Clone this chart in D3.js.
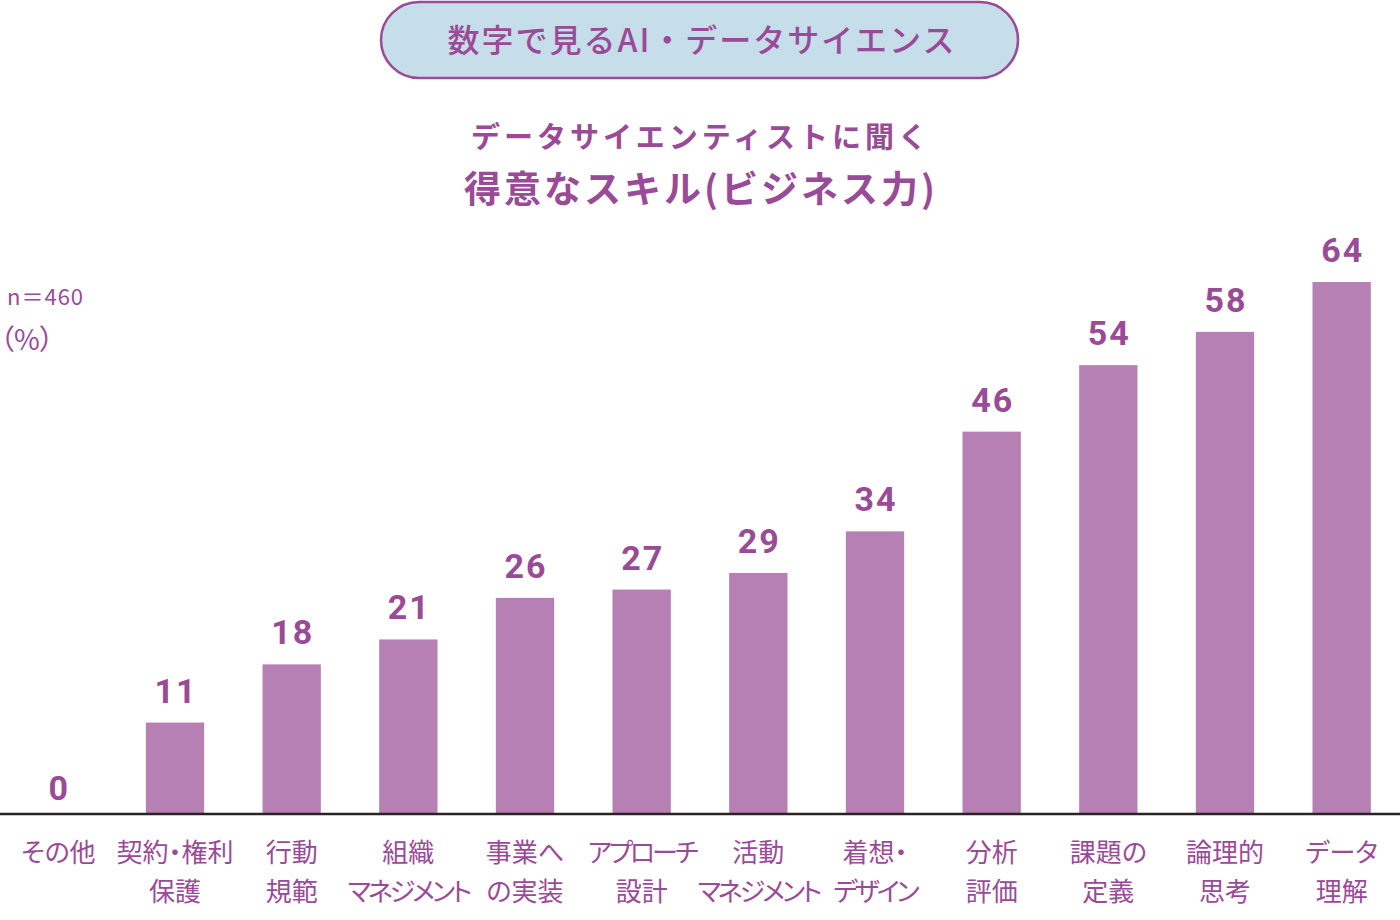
<!DOCTYPE html>
<html>
<head>
<meta charset="utf-8">
<script src="https://cdn.jsdelivr.net/npm/d3@7"></script>
<style>
  body { margin: 0; background: #fff; }
  text { font-family: "Noto Sans CJK JP", sans-serif; font-feature-settings: "palt"; }
  text.title { font-feature-settings: normal; }
</style>
</head>
<body>
<div id="wrapper"></div>
<script>
const labelTop = ["その他", "契約・権利", "行動", "組織", "事業へ", "アプローチ", "活動", "着想・", "分析", "課題の", "論理的", "データ"]
const labelBottom = ["", "保護", "規範", "マネジメント", "の実装", "設計", "マネジメント", "デザイン", "評価", "定義", "思考", "理解"]
const values = [0, 11, 18, 21, 26, 27, 29, 34, 46, 54, 58, 64]

const purple = "#9a4b98"
const barColor = "#b780b5"

let dimensions = {
    width: 1400,
    height: 920,
    margin: { top: 282, right: 0, bottom: 106, left: 0 },
}
dimensions.boundedWidth = dimensions.width - dimensions.margin.left - dimensions.margin.right
dimensions.boundedHeight = dimensions.height - dimensions.margin.top - dimensions.margin.bottom

const svg = d3.select("#wrapper")
    .append("svg")
    .attr("width", dimensions.width)
    .attr("height", dimensions.height)

// header pill
svg.append("rect")
    .attr("x", 381).attr("y", 2)
    .attr("width", 637).attr("height", 76)
    .attr("rx", 38)
    .attr("fill", "#c6ddea")
    .attr("stroke", purple)
    .attr("stroke-width", 2.5)

svg.append("text")
    .attr("class", "title")
    .attr("x", 702).attr("y", 52)
    .attr("text-anchor", "middle")
    .attr("fill", purple)
    .attr("font-size", 32)
    .attr("font-weight", 500)
    .attr("letter-spacing", 2)
    .text("数字で見るAI・データサイエンス")

svg.append("text")
    .attr("class", "title")
    .attr("x", 701).attr("y", 148)
    .attr("text-anchor", "middle")
    .attr("fill", purple)
    .attr("font-size", 29)
    .attr("font-weight", 700)
    .attr("letter-spacing", 4)
    .text("データサイエンティストに聞く")

svg.append("text")
    .attr("class", "title")
    .attr("x", 701).attr("y", 203)
    .attr("text-anchor", "middle")
    .attr("fill", purple)
    .attr("font-size", 37)
    .attr("font-weight", 700)
    .attr("letter-spacing", 3)
    .text("得意なスキル(ビジネス力)")

svg.append("text")
    .attr("x", 7).attr("y", 305)
    .attr("fill", purple)
    .attr("font-size", 22)
    .attr("letter-spacing", 1)
    .text("n＝460")

svg.append("text")
    .attr("x", 0).attr("y", 350)
    .attr("fill", purple)
    .attr("font-size", 28)
    .text("（%）")

const bounds = svg.append("g")
    .style("transform", `translate(${dimensions.margin.left}px, ${dimensions.margin.top}px)`)

const xScale = d3.scaleBand()
    .domain(labelTop)
    .range([0, dimensions.boundedWidth])
    .paddingInner(0.5)
    .paddingOuter(0.25)

const yScale = d3.scaleLinear()
    .domain([0, 64])
    .range([dimensions.boundedHeight, 0])

bounds.selectAll(".bar")
    .data(values)
    .enter().append("rect")
    .attr("class", "bar")
    .attr("x", (d, i) => xScale(labelTop[i]))
    .attr("y", d => yScale(d))
    .attr("width", xScale.bandwidth())
    .attr("height", d => dimensions.boundedHeight - yScale(d))
    .attr("fill", barColor)

bounds.selectAll(".value")
    .data(values)
    .enter().append("text")
    .attr("class", "value")
    .attr("x", (d, i) => xScale(labelTop[i]) + xScale.bandwidth() / 2 + 1)
    .attr("y", d => yScale(d) - (d === 0 ? 14 : 20))
    .attr("text-anchor", "middle")
    .attr("fill", purple)
    .attr("font-size", 34)
    .attr("font-weight", 700)
    .attr("letter-spacing", 2)
    .style("font-family", "Roboto, sans-serif")
    .text(d => d)

const xAxis = d3.axisBottom(xScale).tickSize(0).tickFormat("")
const gX = bounds.append("g")
    .style("transform", `translateY(${dimensions.boundedHeight}px)`)
    .call(xAxis)
gX.select(".domain")
    .attr("d", `M0,0H${dimensions.boundedWidth}`)
    .attr("stroke", "#2b2222")
    .attr("stroke-width", 2.5)

// katakana-heavy labels are set tighter in the original
const tight = s => /^[ァ-ヶー]{4,}$/.test(s) ? -3 : 0

const ticks = gX.selectAll(".tick")
ticks.append("text")
    .attr("y", 48)
    .attr("text-anchor", "middle")
    .attr("fill", purple)
    .attr("font-size", 26)
    .attr("letter-spacing", d => tight(d))
    .text(d => d)
ticks.append("text")
    .attr("y", 87)
    .attr("text-anchor", "middle")
    .attr("fill", purple)
    .attr("font-size", 26)
    .attr("letter-spacing", (d, i) => tight(labelBottom[i]))
    .text((d, i) => labelBottom[i])
</script>
</body>
</html>
